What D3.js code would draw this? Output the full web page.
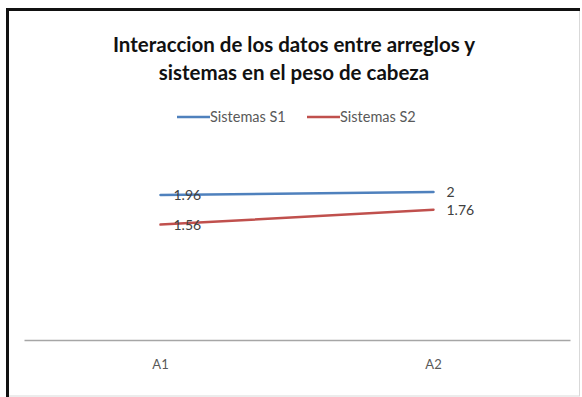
<!DOCTYPE html>
<html>
<head>
<meta charset="utf-8">
<script src="https://cdn.jsdelivr.net/npm/d3@7/dist/d3.min.js"></script>
<style>
  html, body { margin: 0; padding: 0; background: #fff; }
  svg { display: block; }
</style>
</head>
<body>
<svg id="chart" width="582" height="397"></svg>
<script>
const categories = ["A1", "A2"];
const seriesNames = ["Sistemas S1", "Sistemas S2"];
const seriesS1 = [1.96, 2];
const seriesS2 = [1.56, 1.76];
const seriesColors = ["#4F81BD", "#C0504D"];
const titleLines = ["Interaccion de los datos entre arreglos y", "sistemas en el peso de cabeza"];

const series = [
  { name: seriesNames[0], values: seriesS1, color: seriesColors[0] },
  { name: seriesNames[1], values: seriesS2, color: seriesColors[1] }
];

const W = 582, H = 397;
const svg = d3.select("#chart");
const font = "Lato, 'Open Sans', 'DejaVu Sans', sans-serif";

// frame
svg.append("rect").attr("x", 0).attr("y", 0).attr("width", W).attr("height", H).attr("fill", "#fff");
svg.append("rect").attr("x", 8).attr("y", 10).attr("width", 571.5).attr("height", 386)
  .attr("fill", "none").attr("stroke", "#d9d9d9").attr("stroke-width", 1);
svg.append("line").attr("x1", 7.5).attr("x2", 7.5).attr("y1", 8).attr("y2", 397)
  .attr("stroke", "#111").attr("stroke-width", 3);
svg.append("line").attr("x1", 6).attr("x2", 580).attr("y1", 9.5).attr("y2", 9.5)
  .attr("stroke", "#111").attr("stroke-width", 3);

// scales
const margin = { left: 24, right: 12, top: 155, bottom: 57 };
const x = d3.scaleBand().domain(categories).range([margin.left, W - margin.right]);
const y = d3.scaleLinear().domain([0, 2.5]).range([H - margin.bottom, margin.top]);
const cx = d => x(d) + x.bandwidth() / 2;

// title
const title = svg.append("text").attr("text-anchor", "middle")
  .attr("font-family", font).attr("font-weight", "bold").attr("font-size", 20.5)
  .attr("fill", "#111");
titleLines.forEach((t, i) => {
  title.append("tspan").attr("x", 294).attr("y", 52 + i * 28).text(t);
});

// legend
const legendItems = [{ x: 177 }, { x: 307 }];
series.forEach((s, i) => {
  const g = svg.append("g").attr("transform", `translate(${legendItems[i].x},117)`);
  g.append("line").attr("x1", 0).attr("x2", 33).attr("y1", 0).attr("y2", 0)
    .attr("stroke", s.color).attr("stroke-width", 2.5);
  g.append("text").attr("x", 33).attr("y", 5).attr("font-family", font)
    .attr("font-size", 14.5).attr("fill", "#595959").text(s.name);
});

// axis
const xAxis = d3.axisBottom(x).tickSize(0).tickPadding(20);
const ax = svg.append("g").attr("transform", `translate(0,${y(0)})`).call(xAxis);
ax.select(".domain").attr("stroke", "#a6a6a6").attr("stroke-width", 1.5);
ax.selectAll("text").attr("font-family", font).attr("font-size", 13).attr("fill", "#595959");

// lines
const line = d3.line().x((d, i) => cx(categories[i])).y(d => y(d));
series.forEach(s => {
  svg.append("path").datum(s.values).attr("d", line)
    .attr("fill", "none").attr("stroke", s.color).attr("stroke-width", 2.5)
    .attr("stroke-linecap", "round");
});

// data labels
series.forEach(s => {
  svg.append("g").selectAll("text").data(s.values).join("text")
    .attr("x", (d, i) => cx(categories[i]) + 13)
    .attr("y", (d, i) => y(d) + 5)
    .attr("font-family", font).attr("font-size", 14).attr("fill", "#404040")
    .text(d => d);
});
</script>
</body>
</html>
